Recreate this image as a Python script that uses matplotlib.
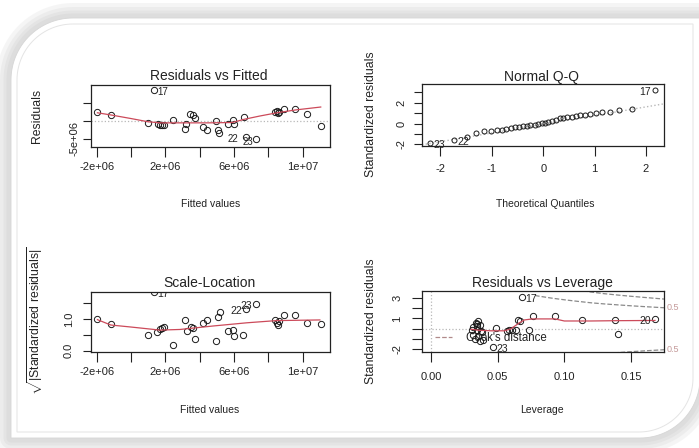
import numpy as np
import matplotlib.pyplot as plt
from matplotlib.path import Path
from matplotlib.patches import PathPatch

plt.rcParams['font.family'] = ['Liberation Sans', 'DejaVu Sans']
plt.rcParams['mathtext.fontset'] = 'custom'
plt.rcParams['mathtext.rm'] = 'Liberation Sans'
plt.rcParams['mathtext.it'] = 'Liberation Sans:italic'

W, H = 699, 448

# Residuals vs Fitted (fitted values and residuals in millions)
fitted = [-1.96, -1.18, 1.34, 1.00, 1.59, 1.69, 1.79, 1.92, 2.43, 3.20, 3.14,
          3.43, 3.59, 3.72, 4.17, 4.40, 4.95, 5.05, 5.14, 5.63, 5.96, 6.00,
          6.58, 6.68, 7.26, 8.38, 8.48, 8.58, 8.64, 8.90, 9.57, 10.23, 11.05]
resid = [2.5, 1.67, 8.5, -0.56, -0.92, -1.1, -1.3, -1.3, 0.2, -0.83, -2.2,
         1.86, 1.5, 0.75, -1.75, -2.5, 0.0, -2.5, -3.5, -0.92, 0.28, -0.83,
         0.94, -4.5, -5.2, 2.42, 2.6, 2.05, 2.5, 3.25, 3.25, 1.86, -1.4]
rf_smooth_x = [-1.96, -1.18, 0.0, 1.0, 1.7, 3.0, 4.5, 5.9, 6.6, 7.5, 8.5, 9.6, 11.05]
rf_smooth_y = [2.2, 1.6, 0.6, -0.3, -0.6, -0.6, -0.6, -0.5, 0.4, 1.3, 2.2, 3.0, 3.8]
rf_ids = {'17': (1.34, 8.5, 'r'), '22': (6.68, -4.5, 'l'), '23': (7.26, -5.2, 'l')}

# Normal Q-Q
theo_q = [-2.20, -1.73, -1.48, -1.30, -1.15, -1.02, -0.91, -0.81, -0.72, -0.63,
          -0.55, -0.47, -0.39, -0.32, -0.25, -0.17, -0.10, -0.03, 0.03, 0.10,
          0.17, 0.25, 0.32, 0.39, 0.47, 0.55, 0.63, 0.72, 0.81, 0.91, 1.02,
          1.15, 1.30, 1.48, 1.73, 2.17]
std_sorted = [-1.90, -1.55, -1.32, -0.93, -0.74, -0.68, -0.64, -0.58, -0.51,
              -0.42, -0.35, -0.29, -0.25, -0.19, -0.16, -0.10, -0.03, 0.04,
              0.10, 0.17, 0.23, 0.33, 0.49, 0.55, 0.62, 0.65, 0.72, 0.78,
              0.87, 0.95, 1.01, 1.07, 1.11, 1.26, 1.36, 3.24]
qq_intercept, qq_slope = -0.07, 0.84
qq_ids = {'23': (-2.20, -1.90, 'r'), '22': (-1.73, -1.55, 'r'), '17': (2.17, 3.24, 'l')}

# Scale-Location
sl_fitted = [-1.96, -1.18, 1.34, 1.00, 1.53, 1.69, 1.79, 1.92, 2.43, 3.16, 3.24,
             3.47, 3.63, 3.72, 4.17, 4.40, 4.95, 5.05, 5.18, 5.63, 5.96, 6.00,
             6.54, 6.68, 7.26, 8.38, 8.48, 8.58, 8.64, 8.90, 9.57, 10.23, 11.05]
sl_root = [1.01, 0.83, 1.85, 0.48, 0.59, 0.67, 0.72, 0.76, 0.17, 0.97, 0.62,
           0.76, 0.72, 0.36, 0.88, 0.98, 0.30, 1.06, 1.23, 0.62, 0.65, 0.46,
           0.51, 1.33, 1.48, 0.96, 0.88, 0.82, 0.93, 1.14, 1.14, 0.86, 0.83]
sl_smooth_x = [-1.96, -1.18, -0.06, 1.69, 2.85, 4.79, 6.74, 8.48, 11.0]
sl_smooth_y = [0.98, 0.81, 0.75, 0.65, 0.67, 0.78, 0.88, 0.95, 0.97]
sl_ids = {'17': (1.34, 1.85, 'r'), '22': (6.68, 1.33, 'l'), '23': (7.26, 1.48, 'l')}

# Residuals vs Leverage
leverage = [0.0353, 0.0341, 0.0366, 0.0316, 0.0304, 0.0341, 0.0371, 0.0316,
            0.0353, 0.0329, 0.0390, 0.0366, 0.0335, 0.0345, 0.0380, 0.0486,
            0.0466, 0.0567, 0.0587, 0.0604, 0.0637, 0.0654, 0.0670, 0.0737,
            0.0762, 0.0930, 0.1130, 0.1380, 0.1400, 0.1680, 0.0680]
std_resid = [0.72, 0.45, 0.33, 0.14, -0.10, -0.10, -0.19, -0.58, -0.74, -0.97,
             -1.06, -1.16, 0.55, 0.25, -0.35, 0.07, -1.77, -0.25, -0.15, -0.10,
             -0.10, 0.81, 0.78, -0.10, 1.26, 1.26, 0.81, 0.81, -0.48, 0.94, 3.04]
lv_smooth_x = [0.030, 0.036, 0.045, 0.055, 0.060, 0.066, 0.070, 0.076, 0.093,
               0.100, 0.120, 0.140, 0.168]
lv_smooth_y = [-0.05, -0.15, -0.2, -0.2, 0.0, 0.55, 0.85, 0.95, 0.95, 0.75,
               0.75, 0.78, 0.80]
cook05_h = [0.078, 0.080, 0.090, 0.100, 0.110, 0.120, 0.130, 0.140, 0.150, 0.160, 0.175]
cook05_y = [3.22, 3.17, 2.97, 2.80, 2.65, 2.51, 2.40, 2.31, 2.22, 2.14, 2.03]
cook1_h = [0.114, 0.120, 0.130, 0.140, 0.150, 0.160, 0.175]
cook1_y = [3.68, 3.55, 3.39, 3.26, 3.14, 3.03, 2.87]
lv_ids = {'17': (0.0680, 3.04, 'r'), '23': (0.0466, -1.77, 'r'), '20': (0.1680, 0.94, 'l')}

INK = '#222222'
RED = '#cc4a5a'
GRID = '#b8b8b8'


def card_path(x0, y0, x1, y1, r1, r2):
    # card with rounded top-left and bottom-right corners (pixel coords, y down)
    t1 = np.linspace(np.pi, 1.5 * np.pi, 30)
    t2 = np.linspace(0, 0.5 * np.pi, 30)
    xs = np.concatenate([x0 + r1 + r1 * np.cos(t1), [x1], x1 - r2 + r2 * np.cos(t2), [x0]])
    ys = np.concatenate([y0 + r1 + r1 * np.sin(t1), [y0], y1 - r2 + r2 * np.sin(t2), [y1]])
    verts = np.column_stack([xs, ys])
    verts = np.vstack([verts, verts[:1]])
    codes = [Path.MOVETO] + [Path.LINETO] * (len(verts) - 2) + [Path.CLOSEPOLY]
    return Path(verts, codes)


def panel(l, t, r, b):
    ax = fig.add_axes([l / W, 1 - b / H, (r - l) / W, (b - t) / H])
    for s in ax.spines.values():
        s.set_linewidth(0.9)
        s.set_color(INK)
    ax.tick_params(colors=INK, width=0.8, labelsize=8)
    ax.patch.set_alpha(0)
    return ax


def ftext(x, y, s, **kw):
    fig.text(x / W, 1 - y / H, s, color=INK, **kw)


def points(ax, x, y, ms=4.5):
    ax.plot(x, y, 'o', mfc='none', mec='#1a1a1a', ms=ms, mew=0.7, ls='none')


def ids(ax, d, size=7.5, clip=False, gap=None):
    gap = gap or {}
    for lab, (x, y, side) in d.items():
        dx = gap.get(lab, 2.5)
        dx = dx if side == 'r' else -dx
        ax.annotate(lab, (x, y), xytext=(dx, -1.5), textcoords='offset points',
                    ha='left' if side == 'r' else 'right', va='center',
                    fontsize=size, color=INK, annotation_clip=clip, clip_on=clip)


fig = plt.figure(figsize=(W / 100, H / 100), dpi=100)

# frame behind the plots
bg = fig.add_axes([0, 0, 1, 1], zorder=-5)
bg.set_xlim(0, W)
bg.set_ylim(H, 0)
bg.axis('off')
card = card_path(11, 18, 700, 438, 62, 60)
for w in [30, 22, 15, 9]:
    bg.add_patch(PathPatch(card, fc='none', ec='#9a9a9a', lw=w / 1.389,
                           alpha=0.09, joinstyle='round'))
bg.add_patch(PathPatch(card, fc='white', ec='#d6d6d6', lw=0.6))
bg.add_patch(PathPatch(card_path(17, 24, 693, 432, 56, 54), fc='none',
                       ec='#e4e4e4', lw=0.7))

M = 1e6

# --- Residuals vs Fitted ---
ax1 = panel(90.7, 84.7, 330, 146.7)
ax1.axhline(0, color=GRID, ls=':', lw=0.9)
points(ax1, np.array(fitted) * M, np.array(resid) * M)
ax1.plot(np.array(rf_smooth_x) * M, np.array(rf_smooth_y) * M, color=RED, lw=0.9)
ids(ax1, {k: (v[0] * M, v[1] * M, v[2]) for k, v in rf_ids.items()},
    size=7, gap={'22': 5, '23': 2})
ax1.set_xlim(-2.35 * M, 11.59 * M)
ax1.set_ylim(-7.22 * M, 10.0 * M)
ax1.set_xticks(np.arange(-2, 11, 2) * M)
ax1.set_xticklabels(['-2e+06', '', '2e+06', '', '6e+06', '', '1e+07'])
ax1.set_yticks([-5 * M, 0, 5 * M])
ax1.set_yticklabels(['-5e+06', '', ''], rotation=90, va='center')
ax1.tick_params(axis='x', length=7, pad=4)
ax1.tick_params(axis='y', length=6, pad=2)

# --- Normal Q-Q ---
ax2 = panel(422, 84.3, 663.5, 145.7)
ax2.axline((0, qq_intercept), slope=qq_slope, color=GRID, ls=':', lw=1.0)
points(ax2, theo_q, std_sorted, ms=3.6)
ids(ax2, qq_ids)
ax2.set_xlim(-2.36, 2.34)
ax2.set_ylim(-2.14, 3.79)
ax2.set_xticks([-2, -1, 0, 1, 2])
ax2.set_xticklabels(['-2', '-1', '0', '1', '2'])
ax2.set_yticks([-2, -1, 0, 1, 2, 3])
ax2.set_yticklabels(['-2', '', '0', '', '2', ''], rotation=90, va='center')
ax2.tick_params(axis='x', length=7, pad=6)
ax2.tick_params(axis='y', length=6, pad=5)

# --- Scale-Location ---
ax3 = panel(90.7, 291.7, 330, 352)
points(ax3, np.array(sl_fitted) * M, sl_root)
ax3.plot(np.array(sl_smooth_x) * M, sl_smooth_y, color=RED, lw=0.9)
ids(ax3, {k: (v[0] * M, v[1], v[2]) for k, v in sl_ids.items()}, clip=True)
ax3.set_xlim(-2.35 * M, 11.59 * M)
ax3.set_ylim(-0.04, 1.86)
ax3.set_xticks(np.arange(-2, 11, 2) * M)
ax3.set_xticklabels(['-2e+06', '', '2e+06', '', '6e+06', '', '1e+07'])
ax3.set_yticks([0, 0.5, 1.0, 1.5])
ax3.set_yticklabels(['0.0', '', '1.0', ''], rotation=90, va='center')
ax3.tick_params(axis='x', length=7, pad=4)
ax3.tick_params(axis='y', length=6, pad=6)

# --- Residuals vs Leverage ---
ax4 = panel(422, 290.7, 663.5, 352.3)
ax4.axhline(0, color=GRID, ls=':', lw=0.9)
ax4.axvline(0, color=GRID, ls=':', lw=0.9)
points(ax4, leverage, std_resid)
ax4.plot(lv_smooth_x, lv_smooth_y, color=RED, lw=0.9)
CK = '#8a8a8a'
ax4.plot(cook05_h, cook05_y, color=CK, ls='--', lw=0.9)
ax4.plot(cook05_h, -np.array(cook05_y), color=CK, ls='--', lw=0.9)
ax4.plot(cook1_h, cook1_y, color=CK, ls='--', lw=0.9)
ax4.text(0.1765, cook05_y[-1], '0.5', fontsize=6.5, color='#c49a9a', va='center')
ax4.text(0.1765, -cook05_y[-1], '0.5', fontsize=6.5, color='#c49a9a', va='center')
ax4.plot([0.003, 0.016], [-0.77, -0.77], color='#b08a8a', ls='--', lw=0.9)
ax4.text(0.0265, -0.85, "Cook's distance", fontsize=8.3, color=INK, va='center')
ids(ax4, lv_ids)
ax4.set_xlim(-0.0068, 0.1744)
ax4.set_ylim(-2.28, 3.68)
ax4.set_xticks([0, 0.05, 0.10, 0.15])
ax4.set_xticklabels(['0.00', '0.05', '0.10', '0.15'])
ax4.set_yticks([-2, -1, 0, 1, 2, 3])
ax4.set_yticklabels(['-2', '', '', '1', '', '3'], rotation=90, va='center')
ax4.tick_params(axis='x', length=7, pad=7)
ax4.tick_params(axis='y', length=7, pad=7)

# titles and axis labels
for x, y, s in [(209, 80, 'Residuals vs Fitted'), (542, 81, 'Normal Q-Q'),
                (209, 287, 'Scale-Location'), (542, 286.5, 'Residuals vs Leverage')]:
    ftext(x, y, s, fontsize=10, ha='center', va='baseline')
for x, y, s in [(211, 207, 'Fitted values'), (545, 207, 'Theoretical Quantiles'),
                (210, 413, 'Fitted values'), (542, 413, 'Leverage')]:
    ftext(x, y, s, fontsize=7.5, ha='center', va='baseline')
for x, y, s in [(37, 116, 'Residuals'), (371, 114, 'Standardized residuals'),
                (35, 321, r'$\sqrt{|\mathrm{Standardized\ residuals}|}$'),
                (371, 321, 'Standardized residuals')]:
    ftext(x, y, s, fontsize=8.8, ha='center', va='center', rotation=90)

fig.savefig('out.png', dpi=100)
